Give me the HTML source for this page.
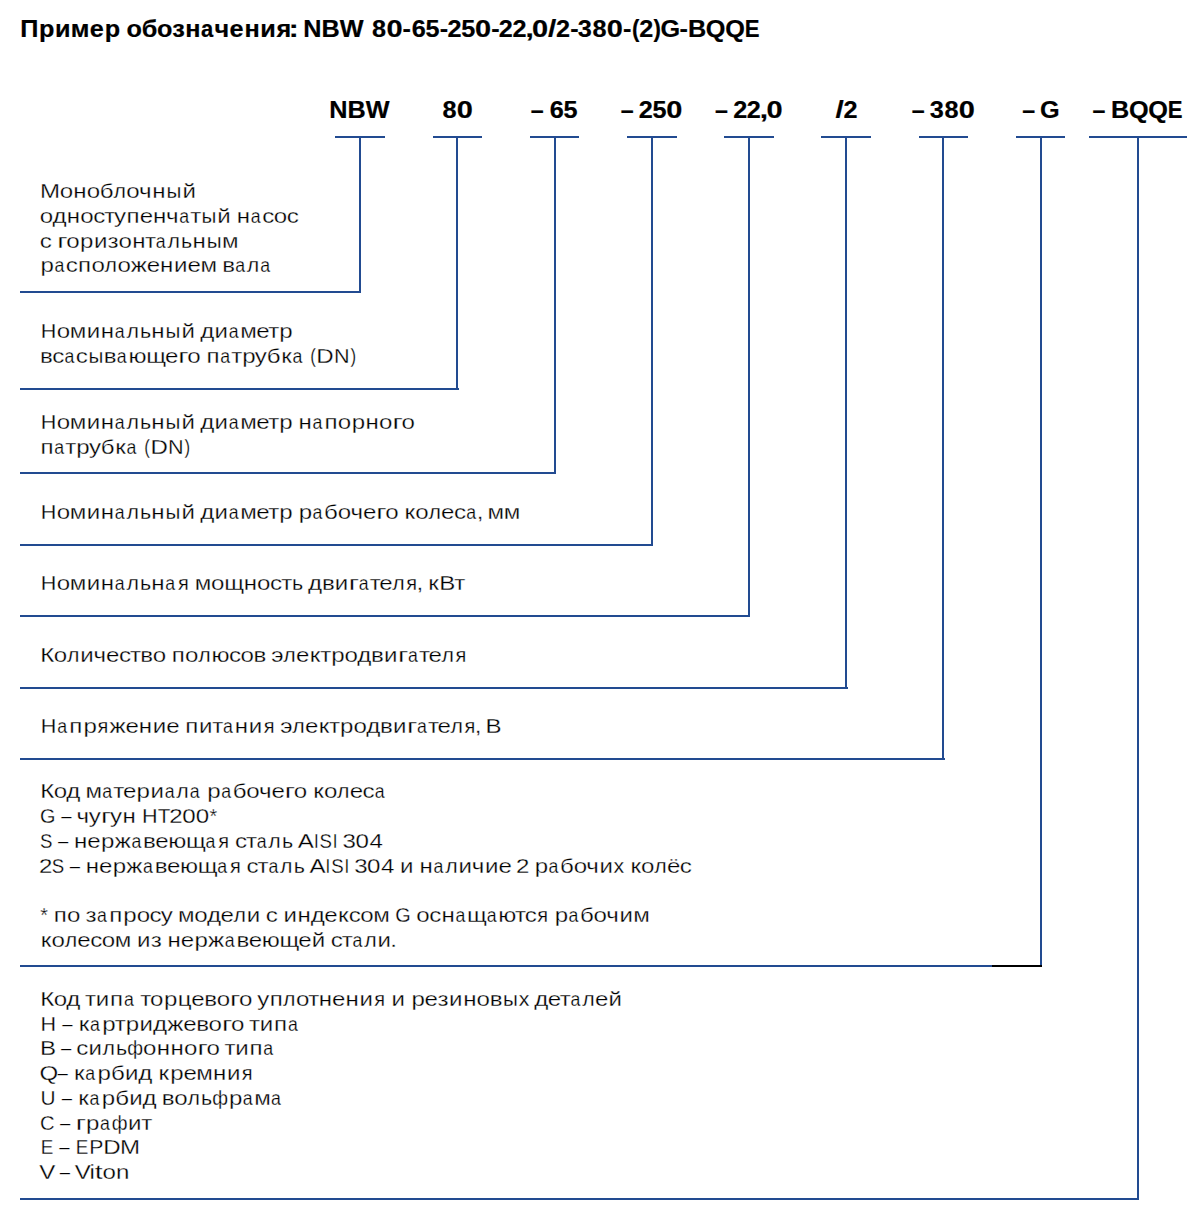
<!DOCTYPE html>
<html lang="ru"><head><meta charset="utf-8"><title>Пример обозначения NBW</title>
<style>
html,body{margin:0;padding:0;background:#fff}
svg{display:block}
text{font-family:"Liberation Sans",sans-serif;white-space:pre;fill:#000}
.b{font-weight:bold;font-size:23.6px;stroke:#000;stroke-width:0.2}
.r{font-size:20.6px;stroke:#fff;stroke-width:0.27}
</style></head><body>
<svg width="1191" height="1226" viewBox="0 0 1191 1226">
<rect width="1191" height="1226" fill="#fff"/>
<g fill="#224b91" shape-rendering="crispEdges">
<rect x="335" y="136" width="50" height="2"/>
<rect x="359" y="138" width="2" height="153"/>
<rect x="20" y="291" width="341" height="2"/>
<rect x="433" y="136" width="49" height="2"/>
<rect x="456" y="138" width="2" height="250"/>
<rect x="20" y="388" width="439" height="2"/>
<rect x="530" y="136" width="49" height="2"/>
<rect x="554" y="138" width="2" height="334"/>
<rect x="20" y="472" width="536" height="2"/>
<rect x="627" y="136" width="50" height="2"/>
<rect x="651" y="138" width="2" height="406"/>
<rect x="20" y="544" width="633" height="2"/>
<rect x="724" y="136" width="50" height="2"/>
<rect x="748" y="138" width="2" height="477"/>
<rect x="20" y="615" width="730" height="2"/>
<rect x="821" y="136" width="50" height="2"/>
<rect x="845" y="138" width="2" height="549"/>
<rect x="20" y="687" width="828" height="2"/>
<rect x="919" y="136" width="49" height="2"/>
<rect x="942" y="138" width="2" height="620"/>
<rect x="20" y="758" width="925" height="2"/>
<rect x="1016" y="136" width="49" height="2"/>
<rect x="1040" y="138" width="2" height="827"/>
<rect x="20" y="965" width="1022" height="2"/>
<rect x="1089" y="136" width="98" height="2"/>
<rect x="1137" y="138" width="2" height="1060"/>
<rect x="20" y="1198" width="1119" height="2"/>
</g>
<rect x="992" y="965" width="50" height="2" fill="#000" shape-rendering="crispEdges"/>
<text class="b" transform="translate(0 37) scale(1.07 1)" x="18.91 36.46 51.33 66.21 83.78 97.81 112.32 118.18 132.42 146.63 160.93 173.23 187.86 200.56 214.44 228.43 243.34 258.41 269.84 277.28 283.49 300.55 317.6 341.21 347.77 361.18 376.28 384.87 397.66 411.05 418.27 430.99 443.9 459.01 466.23 478.88 491.15 497.3 512.12 519.61 532.87 540.03 553.68 567.09 582.19 590.76 597.42 610.73 617.38 634.97 642.9 659.67 677.76 695.99">Пример обозн<tspan textLength="11.43" lengthAdjust="spacingAndGlyphs">а</tspan>чения<tspan textLength="9.27" lengthAdjust="spacingAndGlyphs">:</tspan> NBW 8<tspan textLength="15.05" lengthAdjust="spacingAndGlyphs">0</tspan>-65-25<tspan textLength="15.05" lengthAdjust="spacingAndGlyphs">0</tspan>-22<tspan textLength="7.74" lengthAdjust="spacingAndGlyphs">,</tspan><tspan textLength="15.05" lengthAdjust="spacingAndGlyphs">0</tspan><tspan textLength="7.74" lengthAdjust="spacingAndGlyphs">/</tspan>2-38<tspan textLength="15.05" lengthAdjust="spacingAndGlyphs">0</tspan>-<tspan textLength="6.93" lengthAdjust="spacingAndGlyphs">(</tspan>2<tspan textLength="6.96" lengthAdjust="spacingAndGlyphs">)</tspan>G-BQQ<tspan textLength="13.82" lengthAdjust="spacingAndGlyphs">E</tspan></text>
<text class="b" transform="translate(0 118) scale(1.07 1)" x="307.66 324.72 341.77">NBW</text>
<text class="b" transform="translate(0 118) scale(1.07 1)" x="413.48 426.89">8<tspan textLength="15.05" lengthAdjust="spacingAndGlyphs">0</tspan></text>
<text class="b" transform="translate(0 118) scale(1.07 1)" x="495.97 507.34 513.87 526.66"><tspan textLength="12.05" lengthAdjust="spacingAndGlyphs">–</tspan> 65</text>
<text class="b" transform="translate(0 118) scale(1.07 1)" x="580.08 591.46 597.06 609.77 622.69"><tspan textLength="12.05" lengthAdjust="spacingAndGlyphs">–</tspan> 25<tspan textLength="15.05" lengthAdjust="spacingAndGlyphs">0</tspan></text>
<text class="b" transform="translate(0 118) scale(1.07 1)" x="668.25 679.62 685.22 697.87 710.14 716.29"><tspan textLength="12.05" lengthAdjust="spacingAndGlyphs">–</tspan> 22<tspan textLength="7.74" lengthAdjust="spacingAndGlyphs">,</tspan><tspan textLength="15.05" lengthAdjust="spacingAndGlyphs">0</tspan></text>
<text class="b" transform="translate(0 118) scale(1.07 1)" x="780.81 788.3"><tspan textLength="7.74" lengthAdjust="spacingAndGlyphs">/</tspan>2</text>
<text class="b" transform="translate(0 118) scale(1.07 1)" x="852.02 863.4 869.01 882.66 896.07"><tspan textLength="12.05" lengthAdjust="spacingAndGlyphs">–</tspan> 38<tspan textLength="15.05" lengthAdjust="spacingAndGlyphs">0</tspan></text>
<text class="b" transform="translate(0 118) scale(1.07 1)" x="955.35 966.72 971.96"><tspan textLength="12.05" lengthAdjust="spacingAndGlyphs">–</tspan> G</text>
<text class="b" transform="translate(0 118) scale(1.07 1)" x="1021.01 1032.39 1038.34 1055.11 1073.2 1091.43"><tspan textLength="12.05" lengthAdjust="spacingAndGlyphs">–</tspan> BQQ<tspan textLength="13.82" lengthAdjust="spacingAndGlyphs">E</tspan></text>
<text class="r" transform="translate(0 198) scale(1.17 1)" x="34.09 51.02 62.61 74.11 85.33 97 108 118.88 130.15 142.33 155.91">Моноб<tspan textLength="10.63" lengthAdjust="spacingAndGlyphs">л</tspan>очн<tspan textLength="12.72" lengthAdjust="spacingAndGlyphs">ы</tspan>й</text>
<text class="r" transform="translate(0 223) scale(1.17 1)" x="34.05 44.89 57.07 68.56 79.67 89.09 97.49 108.16 119.36 130.82 141.99 153.31 162.72 172.16 185.73 197.55 202.42 214.37 224.09 233.95 245.06">одноступенч<tspan textLength="8.41" lengthAdjust="spacingAndGlyphs">а</tspan>т<tspan textLength="12.72" lengthAdjust="spacingAndGlyphs">ы</tspan>й н<tspan textLength="8.41" lengthAdjust="spacingAndGlyphs">а</tspan>сос</text>
<text class="r" transform="translate(0 248) scale(1.17 1)" x="33.95 44.11 48.86 56.53 68.38 80.25 91.93 101.34 112.94 124.02 133.21 143.16 154.81 164.48 176.66 189.81">с <tspan textLength="8.87" lengthAdjust="spacingAndGlyphs">г</tspan>оризонт<tspan textLength="8.41" lengthAdjust="spacingAndGlyphs">а</tspan><tspan textLength="10.63" lengthAdjust="spacingAndGlyphs">л</tspan><tspan textLength="9.57" lengthAdjust="spacingAndGlyphs">ь</tspan>н<tspan textLength="12.72" lengthAdjust="spacingAndGlyphs">ы</tspan>м</text>
<text class="r" transform="translate(0 272) scale(1.17 1)" x="34.7 46.52 56.25 66.76 78.14 89.41 100.42 111.84 125.39 136.85 148.78 160.28 171.36 185.4 189.95 201.03 210.99 222.44">р<tspan textLength="8.41" lengthAdjust="spacingAndGlyphs">а</tspan>спо<tspan textLength="10.63" lengthAdjust="spacingAndGlyphs">л</tspan>ожением в<tspan textLength="8.41" lengthAdjust="spacingAndGlyphs">а</tspan><tspan textLength="10.63" lengthAdjust="spacingAndGlyphs">л</tspan><tspan textLength="8.41" lengthAdjust="spacingAndGlyphs">а</tspan></text>
<text class="r" transform="translate(0 338) scale(1.17 1)" x="34.75 48.51 59.72 74.07 86.14 98.09 108.04 119.69 129.35 141.54 155.11 166.93 171.1 183.31 195.44 205.28 219 229.25 238.65"><tspan textLength="13.32" lengthAdjust="spacingAndGlyphs">Н</tspan>омин<tspan textLength="8.41" lengthAdjust="spacingAndGlyphs">а</tspan><tspan textLength="10.63" lengthAdjust="spacingAndGlyphs">л</tspan><tspan textLength="9.57" lengthAdjust="spacingAndGlyphs">ь</tspan>н<tspan textLength="12.72" lengthAdjust="spacingAndGlyphs">ы</tspan>й ди<tspan textLength="8.41" lengthAdjust="spacingAndGlyphs">а</tspan>метр</text>
<text class="r" transform="translate(0 363) scale(1.17 1)" x="34.12 44.66 55.12 64.85 75.55 88.76 99.85 109.86 124.98 141.07 152.41 160.09 171.43 176.4 188.22 197.63 207.03 217.85 227.91 240.3 250 259.96 265.23 270.41 285.42 299.58">вс<tspan textLength="8.41" lengthAdjust="spacingAndGlyphs">а</tspan>с<tspan textLength="12.72" lengthAdjust="spacingAndGlyphs">ы</tspan>в<tspan textLength="8.41" lengthAdjust="spacingAndGlyphs">а</tspan>юще<tspan textLength="8.87" lengthAdjust="spacingAndGlyphs">г</tspan>о п<tspan textLength="8.41" lengthAdjust="spacingAndGlyphs">а</tspan>трубк<tspan textLength="8.41" lengthAdjust="spacingAndGlyphs">а</tspan> <tspan textLength="4.80" lengthAdjust="spacingAndGlyphs">(</tspan>D<tspan textLength="13.32" lengthAdjust="spacingAndGlyphs">N</tspan><tspan textLength="4.80" lengthAdjust="spacingAndGlyphs">)</tspan></text>
<text class="r" transform="translate(0 429) scale(1.17 1)" x="34.75 48.51 59.72 74.07 86.14 98.09 108.04 119.69 129.35 141.54 155.11 166.93 171.1 183.31 195.44 205.28 219 229.25 238.65 250.22 255.09 267.03 277.35 288.73 300.58 312.41 323.91 335.38 343.06"><tspan textLength="13.32" lengthAdjust="spacingAndGlyphs">Н</tspan>омин<tspan textLength="8.41" lengthAdjust="spacingAndGlyphs">а</tspan><tspan textLength="10.63" lengthAdjust="spacingAndGlyphs">л</tspan><tspan textLength="9.57" lengthAdjust="spacingAndGlyphs">ь</tspan>н<tspan textLength="12.72" lengthAdjust="spacingAndGlyphs">ы</tspan>й ди<tspan textLength="8.41" lengthAdjust="spacingAndGlyphs">а</tspan>метр н<tspan textLength="8.41" lengthAdjust="spacingAndGlyphs">а</tspan>порно<tspan textLength="8.87" lengthAdjust="spacingAndGlyphs">г</tspan>о</text>
<text class="r" transform="translate(0 454) scale(1.17 1)" x="34.55 46.37 55.78 65.18 75.99 86.06 98.44 108.15 118.11 123.37 128.55 143.56 157.73">п<tspan textLength="8.41" lengthAdjust="spacingAndGlyphs">а</tspan>трубк<tspan textLength="8.41" lengthAdjust="spacingAndGlyphs">а</tspan> <tspan textLength="4.80" lengthAdjust="spacingAndGlyphs">(</tspan>D<tspan textLength="13.32" lengthAdjust="spacingAndGlyphs">N</tspan><tspan textLength="4.80" lengthAdjust="spacingAndGlyphs">)</tspan></text>
<text class="r" transform="translate(0 519) scale(1.17 1)" x="34.75 48.51 59.72 74.07 86.14 98.09 108.04 119.69 129.35 141.54 155.11 166.93 171.1 183.31 195.44 205.28 219 229.25 238.65 250.22 255.35 267.17 277.01 288.6 299.48 310.17 321.51 329.19 340.53 345.8 354.94 366.22 377.04 388.01 398.47 407.45 412.17 416.65 430.57"><tspan textLength="13.32" lengthAdjust="spacingAndGlyphs">Н</tspan>омин<tspan textLength="8.41" lengthAdjust="spacingAndGlyphs">а</tspan><tspan textLength="10.63" lengthAdjust="spacingAndGlyphs">л</tspan><tspan textLength="9.57" lengthAdjust="spacingAndGlyphs">ь</tspan>н<tspan textLength="12.72" lengthAdjust="spacingAndGlyphs">ы</tspan>й ди<tspan textLength="8.41" lengthAdjust="spacingAndGlyphs">а</tspan>метр р<tspan textLength="8.41" lengthAdjust="spacingAndGlyphs">а</tspan>боче<tspan textLength="8.87" lengthAdjust="spacingAndGlyphs">г</tspan>о ко<tspan textLength="10.63" lengthAdjust="spacingAndGlyphs">л</tspan>ес<tspan textLength="8.41" lengthAdjust="spacingAndGlyphs">а</tspan>, мм</text>
<text class="r" transform="translate(0 590) scale(1.17 1)" x="34.75 48.51 59.72 74.07 86.14 98.09 108.04 119.69 129.35 141.3 152.1 161.93 166.42 180.33 191.6 208.27 219.77 230.87 240.3 249.68 259.1 263.26 275.11 286.19 298.14 306.68 316.09 324.24 335.24 347.22 356.07 360.79 366.06 375.51 388.28"><tspan textLength="13.32" lengthAdjust="spacingAndGlyphs">Н</tspan>омин<tspan textLength="8.41" lengthAdjust="spacingAndGlyphs">а</tspan><tspan textLength="10.63" lengthAdjust="spacingAndGlyphs">л</tspan><tspan textLength="9.57" lengthAdjust="spacingAndGlyphs">ь</tspan>н<tspan textLength="8.41" lengthAdjust="spacingAndGlyphs">а</tspan><tspan textLength="9.23" lengthAdjust="spacingAndGlyphs">я</tspan> мощност<tspan textLength="9.57" lengthAdjust="spacingAndGlyphs">ь</tspan> дви<tspan textLength="8.87" lengthAdjust="spacingAndGlyphs">г</tspan><tspan textLength="8.41" lengthAdjust="spacingAndGlyphs">а</tspan>те<tspan textLength="10.63" lengthAdjust="spacingAndGlyphs">л</tspan><tspan textLength="9.23" lengthAdjust="spacingAndGlyphs">я</tspan>, кВт</text>
<text class="r" transform="translate(0 662) scale(1.17 1)" x="34.45 45.89 57.17 68.61 79.97 90.66 101.63 111.06 119.88 130.52 141.85 146.83 158.21 169.49 180.68 195.63 205.49 216.76 227.54 231.93 242.15 252.98 264.84 273.67 283.07 294.5 305.34 317.19 328.26 340.22 348.76 358.17 366.31 377.31 389.3">Ко<tspan textLength="10.63" lengthAdjust="spacingAndGlyphs">л</tspan>ичество по<tspan textLength="10.63" lengthAdjust="spacingAndGlyphs">л</tspan>юсов э<tspan textLength="10.63" lengthAdjust="spacingAndGlyphs">л</tspan>ектродви<tspan textLength="8.87" lengthAdjust="spacingAndGlyphs">г</tspan><tspan textLength="8.41" lengthAdjust="spacingAndGlyphs">а</tspan>те<tspan textLength="10.63" lengthAdjust="spacingAndGlyphs">л</tspan><tspan textLength="9.23" lengthAdjust="spacingAndGlyphs">я</tspan></text>
<text class="r" transform="translate(0 733) scale(1.17 1)" x="34.75 48.96 59.28 71.31 83.42 93.63 107.18 118.64 130.57 142.07 153.28 158.25 170.06 181.33 190.52 200.74 212.67 225.34 235.17 239.56 249.78 260.61 272.47 281.3 290.69 302.13 312.97 324.82 335.89 347.85 356.39 365.8 373.94 384.94 396.93 405.78 410.5 414.98"><tspan textLength="13.32" lengthAdjust="spacingAndGlyphs">Н</tspan><tspan textLength="8.41" lengthAdjust="spacingAndGlyphs">а</tspan>пр<tspan textLength="9.23" lengthAdjust="spacingAndGlyphs">я</tspan>жение пит<tspan textLength="8.41" lengthAdjust="spacingAndGlyphs">а</tspan>ни<tspan textLength="9.23" lengthAdjust="spacingAndGlyphs">я</tspan> э<tspan textLength="10.63" lengthAdjust="spacingAndGlyphs">л</tspan>ектродви<tspan textLength="8.87" lengthAdjust="spacingAndGlyphs">г</tspan><tspan textLength="8.41" lengthAdjust="spacingAndGlyphs">а</tspan>те<tspan textLength="10.63" lengthAdjust="spacingAndGlyphs">л</tspan><tspan textLength="9.23" lengthAdjust="spacingAndGlyphs">я</tspan>, В</text>
<text class="r" transform="translate(0 798) scale(1.17 1)" x="34.45 45.89 56.73 68.65 73.13 87.48 96.89 105.04 116.76 128.62 140.75 150.71 162.16 172.12 177.25 189.07 198.91 210.5 221.38 232.07 243.41 251.09 262.42 267.7 276.84 288.11 298.94 309.91 320.37">Код м<tspan textLength="8.41" lengthAdjust="spacingAndGlyphs">а</tspan>тери<tspan textLength="8.41" lengthAdjust="spacingAndGlyphs">а</tspan><tspan textLength="10.63" lengthAdjust="spacingAndGlyphs">л</tspan><tspan textLength="8.41" lengthAdjust="spacingAndGlyphs">а</tspan> р<tspan textLength="8.41" lengthAdjust="spacingAndGlyphs">а</tspan>боче<tspan textLength="8.87" lengthAdjust="spacingAndGlyphs">г</tspan>о ко<tspan textLength="10.63" lengthAdjust="spacingAndGlyphs">л</tspan>ес<tspan textLength="8.41" lengthAdjust="spacingAndGlyphs">а</tspan></text>
<text class="r" transform="translate(0 823) scale(1.17 1)" x="34.25 47.8 52.42 61.23 65.38 75.91 86.36 94.1 104.68 116.31 121.42 134.92 144.72 155.7 167.36 179.16"><tspan textLength="13.22" lengthAdjust="spacingAndGlyphs">G</tspan> <tspan textLength="8.82" lengthAdjust="spacingAndGlyphs">–</tspan> чу<tspan textLength="8.87" lengthAdjust="spacingAndGlyphs">г</tspan>ун <tspan textLength="13.32" lengthAdjust="spacingAndGlyphs">H</tspan><tspan textLength="10.77" lengthAdjust="spacingAndGlyphs">T</tspan>200<tspan textLength="6.56" lengthAdjust="spacingAndGlyphs">*</tspan></text>
<text class="r" transform="translate(0 848) scale(1.17 1)" x="34.29 45.02 49.64 58.44 63.32 74.63 86.35 98 112.3 122.19 132.65 143.91 159.03 175.75 186.55 196.38 200.76 210.19 219.38 229.33 240.98 250.39 254.45 268.29 273.06 284.45 289.11 292.67 303.77 315.71"><tspan textLength="10.63" lengthAdjust="spacingAndGlyphs">S</tspan> <tspan textLength="8.82" lengthAdjust="spacingAndGlyphs">–</tspan> нерж<tspan textLength="8.41" lengthAdjust="spacingAndGlyphs">а</tspan>веющ<tspan textLength="8.41" lengthAdjust="spacingAndGlyphs">а</tspan><tspan textLength="9.23" lengthAdjust="spacingAndGlyphs">я</tspan> ст<tspan textLength="8.41" lengthAdjust="spacingAndGlyphs">а</tspan><tspan textLength="10.63" lengthAdjust="spacingAndGlyphs">л</tspan><tspan textLength="9.57" lengthAdjust="spacingAndGlyphs">ь</tspan> A<tspan textLength="4.01" lengthAdjust="spacingAndGlyphs">I</tspan><tspan textLength="10.63" lengthAdjust="spacingAndGlyphs">S</tspan><tspan textLength="4.01" lengthAdjust="spacingAndGlyphs">I</tspan> 304</text>
<text class="r" transform="translate(0 873) scale(1.17 1)" x="33.29 44.3 55.03 59.64 68.45 73.32 84.64 96.35 108.01 122.3 132.2 142.66 153.91 169.03 185.75 196.56 206.39 210.77 220.19 229.39 239.34 250.99 260.4 264.46 278.3 283.07 294.45 299.11 302.68 313.78 325.71 336.97 341.88 353.7 358.57 370.52 380.47 391.91 403.27 414.58 426.08 437.29 441 451.91 457.03 468.85 478.7 490.29 501.16 512.47 524.35 533.56 538.84 547.97 559.25 570.08 581.05">2<tspan textLength="10.63" lengthAdjust="spacingAndGlyphs">S</tspan> <tspan textLength="8.82" lengthAdjust="spacingAndGlyphs">–</tspan> нерж<tspan textLength="8.41" lengthAdjust="spacingAndGlyphs">а</tspan>веющ<tspan textLength="8.41" lengthAdjust="spacingAndGlyphs">а</tspan><tspan textLength="9.23" lengthAdjust="spacingAndGlyphs">я</tspan> ст<tspan textLength="8.41" lengthAdjust="spacingAndGlyphs">а</tspan><tspan textLength="10.63" lengthAdjust="spacingAndGlyphs">л</tspan><tspan textLength="9.57" lengthAdjust="spacingAndGlyphs">ь</tspan> A<tspan textLength="4.01" lengthAdjust="spacingAndGlyphs">I</tspan><tspan textLength="10.63" lengthAdjust="spacingAndGlyphs">S</tspan><tspan textLength="4.01" lengthAdjust="spacingAndGlyphs">I</tspan> 304 и н<tspan textLength="8.41" lengthAdjust="spacingAndGlyphs">а</tspan><tspan textLength="10.63" lengthAdjust="spacingAndGlyphs">л</tspan>ичие 2 р<tspan textLength="8.41" lengthAdjust="spacingAndGlyphs">а</tspan>бочи<tspan textLength="9.14" lengthAdjust="spacingAndGlyphs">х</tspan> ко<tspan textLength="10.63" lengthAdjust="spacingAndGlyphs">л</tspan>ёс</text>
<text class="r" transform="translate(0 922) scale(1.17 1)" x="34.3 40.99 45.96 57.34 68.68 73.15 83.01 93.33 105.35 116.79 127.89 137.42 147.74 152.22 166.13 176.97 188.57 199.57 211.01 222.83 227.21 237.36 242.28 254.36 265.54 277.14 289 298.04 307.9 319.11 333.15 337.83 351.39 355.86 366.97 377.38 389.32 399.21 415.94 425.95 440.23 448.46 459.14 468.97 474.1 485.92 495.76 507.35 518.23 529.54 541.23"><tspan textLength="6.56" lengthAdjust="spacingAndGlyphs">*</tspan> по з<tspan textLength="8.41" lengthAdjust="spacingAndGlyphs">а</tspan>просу моде<tspan textLength="10.63" lengthAdjust="spacingAndGlyphs">л</tspan>и с индексом <tspan textLength="13.22" lengthAdjust="spacingAndGlyphs">G</tspan> осн<tspan textLength="8.41" lengthAdjust="spacingAndGlyphs">а</tspan>щ<tspan textLength="8.41" lengthAdjust="spacingAndGlyphs">а</tspan>ютс<tspan textLength="9.23" lengthAdjust="spacingAndGlyphs">я</tspan> р<tspan textLength="8.41" lengthAdjust="spacingAndGlyphs">а</tspan>бочим</text>
<text class="r" transform="translate(0 947) scale(1.17 1)" x="34.85 43.98 55.26 66.09 77.06 86.92 98.13 112.17 117.08 128.76 138.31 143.18 154.5 166.22 177.87 192.17 202.06 212.52 223.78 238.89 254.99 266.49 278.31 282.69 292.12 301.31 311.26 322.7 333.53">ко<tspan textLength="10.63" lengthAdjust="spacingAndGlyphs">л</tspan>есом из нерж<tspan textLength="8.41" lengthAdjust="spacingAndGlyphs">а</tspan>веющей ст<tspan textLength="8.41" lengthAdjust="spacingAndGlyphs">а</tspan><tspan textLength="10.63" lengthAdjust="spacingAndGlyphs">л</tspan>и.</text>
<text class="r" transform="translate(0 1006) scale(1.17 1)" x="34.45 45.89 56.73 68.65 72.71 81.89 94.07 105.89 115.85 119.92 128.24 140.1 151.89 163.4 174.53 185.18 196.65 204.32 215.66 219.79 230.47 241.97 252.98 263.41 272.55 283.87 295.33 307.26 319.93 329.76 334.67 346.49 351.62 362.87 373.93 383.78 395.86 407.35 418.63 429.95 443.29 452.5 456.66 468.26 478.51 487.7 497.65 508.48 519.98">Код тип<tspan textLength="8.41" lengthAdjust="spacingAndGlyphs">а</tspan> торцево<tspan textLength="8.87" lengthAdjust="spacingAndGlyphs">г</tspan>о уп<tspan textLength="10.63" lengthAdjust="spacingAndGlyphs">л</tspan>отнени<tspan textLength="9.23" lengthAdjust="spacingAndGlyphs">я</tspan> и резинов<tspan textLength="12.72" lengthAdjust="spacingAndGlyphs">ы</tspan><tspan textLength="9.14" lengthAdjust="spacingAndGlyphs">х</tspan> дет<tspan textLength="8.41" lengthAdjust="spacingAndGlyphs">а</tspan><tspan textLength="10.63" lengthAdjust="spacingAndGlyphs">л</tspan>ей</text>
<text class="r" transform="translate(0 1031) scale(1.17 1)" x="34.68 48.51 53.12 61.93 67.21 76.91 87.39 98.05 107.45 119.32 130.69 142.99 156.54 167.67 178.31 189.79 197.46 208.8 212.87 222.05 234.23 246.05"><tspan textLength="13.32" lengthAdjust="spacingAndGlyphs">H</tspan> <tspan textLength="8.82" lengthAdjust="spacingAndGlyphs">–</tspan> к<tspan textLength="8.41" lengthAdjust="spacingAndGlyphs">а</tspan>ртриджево<tspan textLength="8.87" lengthAdjust="spacingAndGlyphs">г</tspan>о тип<tspan textLength="8.41" lengthAdjust="spacingAndGlyphs">а</tspan></text>
<text class="r" transform="translate(0 1055) scale(1.17 1)" x="34.18 47.47 52.08 60.89 65.27 75.72 87.53 99.18 108.77 122.29 133.88 145.77 157.27 168.74 176.42 187.76 191.82 201 213.18 225">B <tspan textLength="8.82" lengthAdjust="spacingAndGlyphs">–</tspan> си<tspan textLength="10.63" lengthAdjust="spacingAndGlyphs">л</tspan><tspan textLength="9.57" lengthAdjust="spacingAndGlyphs">ь</tspan><tspan textLength="13.49" lengthAdjust="spacingAndGlyphs">ф</tspan>онно<tspan textLength="8.87" lengthAdjust="spacingAndGlyphs">г</tspan>о тип<tspan textLength="8.41" lengthAdjust="spacingAndGlyphs">а</tspan></text>
<text class="r" transform="translate(0 1080) scale(1.17 1)" x="33.85 49.1 57.91 63.18 72.89 83.37 94.82 106.84 118.22 130.13 135.41 145.49 156.75 167.82 182.12 194.05 206.72">Q<tspan textLength="8.82" lengthAdjust="spacingAndGlyphs">–</tspan> к<tspan textLength="8.41" lengthAdjust="spacingAndGlyphs">а</tspan>рбид кремни<tspan textLength="9.23" lengthAdjust="spacingAndGlyphs">я</tspan></text>
<text class="r" transform="translate(0 1105) scale(1.17 1)" x="34.71 48.14 52.75 61.56 66.84 76.54 87.02 98.47 110.49 121.87 133.78 138.33 148.97 160.25 171.9 181.48 195.65 207.47 217.3 231.66"><tspan textLength="12.88" lengthAdjust="spacingAndGlyphs">U</tspan> <tspan textLength="8.82" lengthAdjust="spacingAndGlyphs">–</tspan> к<tspan textLength="8.41" lengthAdjust="spacingAndGlyphs">а</tspan>рбид во<tspan textLength="10.63" lengthAdjust="spacingAndGlyphs">л</tspan><tspan textLength="9.57" lengthAdjust="spacingAndGlyphs">ь</tspan><tspan textLength="13.49" lengthAdjust="spacingAndGlyphs">ф</tspan>р<tspan textLength="8.41" lengthAdjust="spacingAndGlyphs">а</tspan>м<tspan textLength="8.41" lengthAdjust="spacingAndGlyphs">а</tspan></text>
<text class="r" transform="translate(0 1130) scale(1.17 1)" x="34.22 46.68 51.29 60.1 64.85 73.6 85.41 95.55 109.5 120.77"><tspan textLength="12.51" lengthAdjust="spacingAndGlyphs">C</tspan> <tspan textLength="8.82" lengthAdjust="spacingAndGlyphs">–</tspan> <tspan textLength="8.87" lengthAdjust="spacingAndGlyphs">г</tspan>р<tspan textLength="8.41" lengthAdjust="spacingAndGlyphs">а</tspan><tspan textLength="13.49" lengthAdjust="spacingAndGlyphs">ф</tspan>ит</text>
<text class="r" transform="translate(0 1154) scale(1.17 1)" x="34.88 45.97 50.59 59.39 64.7 76.31 88.3 102.65"><tspan textLength="10.73" lengthAdjust="spacingAndGlyphs">E</tspan> <tspan textLength="8.82" lengthAdjust="spacingAndGlyphs">–</tspan> <tspan textLength="10.73" lengthAdjust="spacingAndGlyphs">E</tspan><tspan textLength="12.10" lengthAdjust="spacingAndGlyphs">P</tspan>DM</text>
<text class="r" transform="translate(0 1179) scale(1.17 1)" x="33.47 46.48 51.1 59.91 63.81 76.6 81.08 87.7 99.22">V <tspan textLength="8.82" lengthAdjust="spacingAndGlyphs">–</tspan> Vi<tspan textLength="6.75" lengthAdjust="spacingAndGlyphs">t</tspan>on</text>
</svg></body></html>
